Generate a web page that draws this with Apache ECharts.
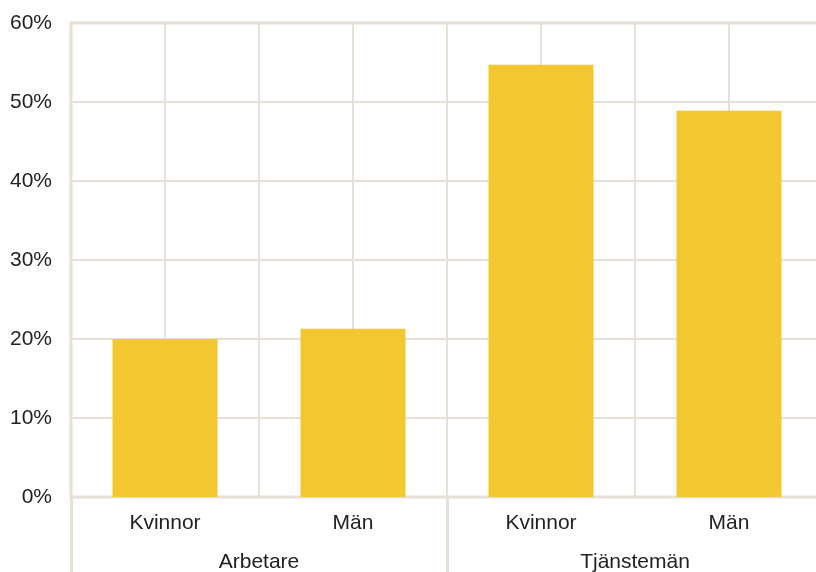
<!DOCTYPE html>
<html>
<head>
<meta charset="utf-8">
<script src="https://cdn.jsdelivr.net/npm/echarts@6/dist/echarts.min.js"></script>
<style>
html,body{margin:0;padding:0;background:#fff;}
#chart{width:816px;height:572px;}
</style>
</head>
<body>
<div id="chart"></div>
<script>
var categories = ['Kvinnor', 'Män', 'Kvinnor', 'Män'];
var groups = ['Arbetare', 'Tjänstemän'];
var values = [20.0, 21.3, 54.7, 48.9];
var yTicks = [0, 10, 20, 30, 40, 50, 60];

var gridColor = '#E6E0D8';
var textColor = '#222222';
var font = 'Liberation Sans, Arial, sans-serif';

var chart = echarts.init(document.getElementById('chart'), null, {renderer: 'canvas'});
chart.setOption({
  animation: false,
  backgroundColor: '#ffffff',
  grid: {
    left: 71, right: -7, top: 23, bottom: 75,
    outerBoundsMode: 'none', containLabel: false,
    show: true, borderColor: gridColor, borderWidth: 3, backgroundColor: 'transparent'
  },
  xAxis: [
    {
      type: 'category', data: categories, position: 'bottom',
      axisLine: {show: false}, axisTick: {show: false}, splitLine: {show: false},
      axisLabel: {color: textColor, fontSize: 21, fontFamily: font, margin: 16, interval: 0}
    },
    {
      type: 'value', min: 0, max: 8, interval: 1, position: 'top',
      axisLine: {show: false}, axisTick: {show: false}, axisLabel: {show: false},
      splitLine: {show: true, lineStyle: {color: gridColor, width: 2}}
    },
    {
      type: 'category', data: groups, position: 'bottom',
      axisLine: {show: false},
      axisTick: {show: true, length: 80, alignWithLabel: false, interval: 0, lineStyle: {color: gridColor, width: 3}},
      splitLine: {show: false},
      axisLabel: {color: textColor, fontSize: 21, fontFamily: font, margin: 55, interval: 0}
    }
  ],
  yAxis: {
    type: 'value', min: yTicks[0], max: yTicks[yTicks.length - 1], interval: 10,
    axisLine: {show: false}, axisTick: {show: false},
    axisLabel: {color: textColor, fontSize: 21, fontFamily: font, margin: 19, formatter: '{value}%', padding: [4, 0, 0, 0]},
    splitLine: {show: true, lineStyle: {color: gridColor, width: 2}}
  },
  series: [{
    type: 'bar', xAxisIndex: 0, data: values, barWidth: 105,
    itemStyle: {color: '#F2C72F'}
  }]
});
</script>
</body>
</html>
